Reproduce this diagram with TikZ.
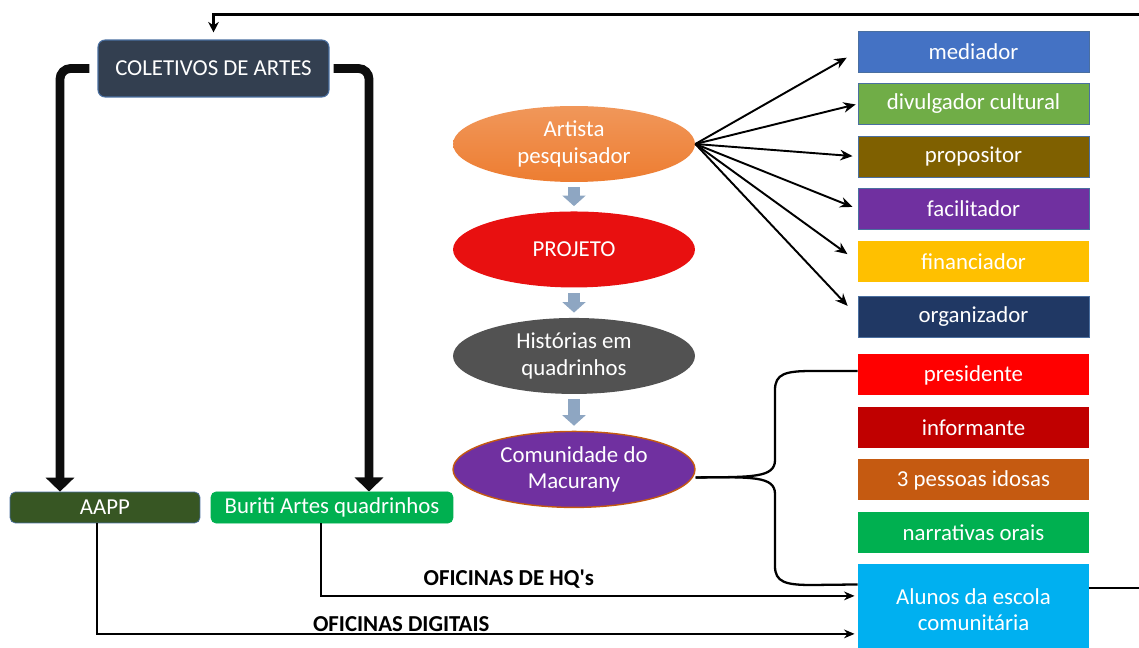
\documentclass[tikz,border=0pt]{standalone}
\usepackage{fontspec}
\setmainfont{Carlito}
\usepackage{tikz}
\usetikzlibrary{shapes.geometric, arrows.meta, positioning, calc}

\definecolor{slate}{HTML}{333F50}
\definecolor{bordblue}{HTML}{4A6FA0}
\definecolor{steel}{HTML}{8EA6C2}
\definecolor{bar}{HTML}{0D0D0D}
\definecolor{cmediador}{HTML}{4472C4}
\definecolor{cdivulgador}{HTML}{70AD47}
\definecolor{cpropositor}{HTML}{7F6000}
\definecolor{cfacilitador}{HTML}{7030A0}
\definecolor{cfinanciador}{HTML}{FFC000}
\definecolor{corganizador}{HTML}{203864}
\definecolor{cpresidente}{HTML}{FF0000}
\definecolor{cinformante}{HTML}{C00000}
\definecolor{cidosas}{HTML}{C55A11}
\definecolor{cnarrativas}{HTML}{00B050}
\definecolor{calunos}{HTML}{00B0F0}
\definecolor{cartista}{HTML}{ED7D31}
\definecolor{cprojeto}{HTML}{E81010}
\definecolor{chistorias}{HTML}{525252}
\definecolor{ccomunidade}{HTML}{7030A0}
\definecolor{caapp}{HTML}{375623}
\definecolor{cburiti}{HTML}{00B050}

\newcommand{\diagfont}{\fontsize{13pt}{15pt}\selectfont}

\tikzstyle{role} = [rectangle, minimum width = 4.62cm, minimum height = 0.82cm, align = center, text = white, draw = bordblue, line width = 0.5pt]
\tikzstyle{stage} = [ellipse, minimum width = 4.84cm, minimum height = 1.52cm, inner sep = 0pt, align = center, text = white]
\tikzstyle{group} = [rectangle, rounded corners = 3pt, minimum height = 0.62cm, text = white, draw = bordblue, line width = 0.4pt]
\tikzstyle{arrow} = [line width = 1.1pt, -{Stealth[length = 7pt, width = 6pt]}]
\tikzstyle{bigarrow} = [draw = bar, line width = 5pt, rounded corners = 6pt, -{Triangle[length = 8pt, width = 16pt]}]
\tikzstyle{blockarrow} = [draw = steel, line width = 6.5pt, shorten < = 0.1cm, shorten > = 0.1cm, -{Triangle[length = 6pt, width = 13pt]}]
\tikzstyle{link} = [line width = 0.9pt, -{Stealth[length = 6pt, width = 5pt]}]
\tikzstyle{brace} = [line width = 1.3pt]
\tikzstyle{label} = [font = \diagfont\bfseries, inner sep = 1pt]

\begin{document}
\begin{tikzpicture}[x = 0.02cm, y = -0.02cm, node distance = 1.05cm, font = \diagfont]

\useasboundingbox (0,0) rectangle (1139,648);
\clip (0,0) rectangle (1139,648);

%NODES
\node (coletivos) [rectangle, rounded corners = 4pt, minimum width = 4.62cm, minimum height = 1.14cm, fill = slate, draw = bordblue, line width = 0.6pt, text = white] at (213.5,68.5) {COLETIVOS DE ARTES};
\node (aapp) [group, minimum width = 3.8cm, fill = caapp] at (105,507.5) {AAPP};
\node (buriti) [group, minimum width = 4.84cm, fill = cburiti, draw = cburiti] at (332,507.5) {Buriti Artes quadrinhos};

\node (artista) [stage, top color = cartista!80!white, bottom color = cartista] at (574,144) {Artista\\pesquisador};
\node (projeto) [stage, fill = cprojeto, below of = artista, yshift = -1.06cm] {PROJETO};
\node (historias) [stage, fill = chistorias, below of = projeto, yshift = -1.08cm] {Histórias em\\quadrinhos};
\node (comunidade) [stage, fill = ccomunidade, draw = cidosas, line width = 0.8pt, below of = historias, yshift = -1.22cm] {Comunidade do\\Macurany};

\node (mediador) [role, fill = cmediador] at (973.5,51.5) {mediador};
\node (divulgador) [role, fill = cdivulgador, below of = mediador] {divulgador cultural};
\node (propositor) [role, fill = cpropositor, below of = divulgador] {propositor};
\node (facilitador) [role, fill = cfacilitador, below of = propositor] {facilitador};
\node (financiador) [role, fill = cfinanciador, draw = none, below of = facilitador] {financiador};
\node (organizador) [role, fill = corganizador, below of = financiador, yshift = -0.05cm] {organizador};
\node (presidente) [role, fill = cpresidente, draw = none, below of = organizador, yshift = -0.12cm] {presidente};
\node (informante) [role, fill = cinformante, draw = none, below of = presidente] {informante};
\node (idosas) [role, fill = cidosas, draw = none, below of = informante] {3 pessoas idosas};
\node (narrativas) [role, fill = cnarrativas, draw = none, below of = idosas] {narrativas orais};
\node (alunos) [role, fill = calunos, draw = none, minimum height = 1.84cm, below of = narrativas, yshift = -0.5cm] {Alunos da escola\\comunitária};

\coordinate (bracetip) at ($(comunidade.east) + (0,8)$);

%ARROWS
\draw [bigarrow] ([xshift = -8 * 0.02cm]coletivos.west) -| ($(aapp.north) + (-45,0)$);
\draw [bigarrow] ([xshift = 4 * 0.02cm]coletivos.east) -| ($(buriti.north) + (37,0)$);

\draw [blockarrow] (artista) -- (projeto);
\draw [blockarrow] (projeto) -- (historias);
\draw [blockarrow] (historias) -- (comunidade);

\draw [arrow, shorten > = 0.25cm] (artista.east) -- (mediador.west);
\draw [arrow, shorten > = 0.04cm] (artista.east) -- (divulgador.west);
\draw [arrow, shorten > = 0.1cm] (artista.east) -- (propositor.west);
\draw [arrow, shorten > = 0.11cm] (artista.east) -- (facilitador.west);
\draw [arrow, shorten > = 0.25cm] (artista.east) -- (financiador.west);
\draw [arrow, shorten > = 0.29cm] (artista.east) -- (organizador.west);

\draw [brace] (bracetip) .. controls (752,477) and (775,478) .. (775,460) -- (775,390) .. controls (775,374) and (785,371) .. (812,371) -- (presidente.west |- 0,371);
\draw [brace] (bracetip) .. controls (752,477) and (775,476) .. (775,494) -- (775,566) .. controls (775,582) and (785,585) .. (812,585) -- ($(alunos.north west) + (0,21)$);

\draw [link, shorten > = 0.06cm] ($(buriti.south) + (-11,0)$) |- node[label, above = 3pt, pos = 0.675] {OFICINAS DE HQ\textquotesingle s} ($(alunos.west) + (0,-14)$);
\draw [link, shorten > = 0.06cm] ($(aapp.south) + (-8,0)$) |- node[label, above = 0pt, pos = 0.70] {OFICINAS DIGITAIS} ($(alunos.west) + (0,24)$);

\draw [line width = 1.4pt, -{Stealth[length = 6pt, width = 6pt]}, shorten > = 0.14cm] ($(alunos.east) + (0,-22)$) -- ++(70,0) |- ($(coletivos.north) + (0,-25)$) -- (coletivos.north);

\end{tikzpicture}
\end{document}
